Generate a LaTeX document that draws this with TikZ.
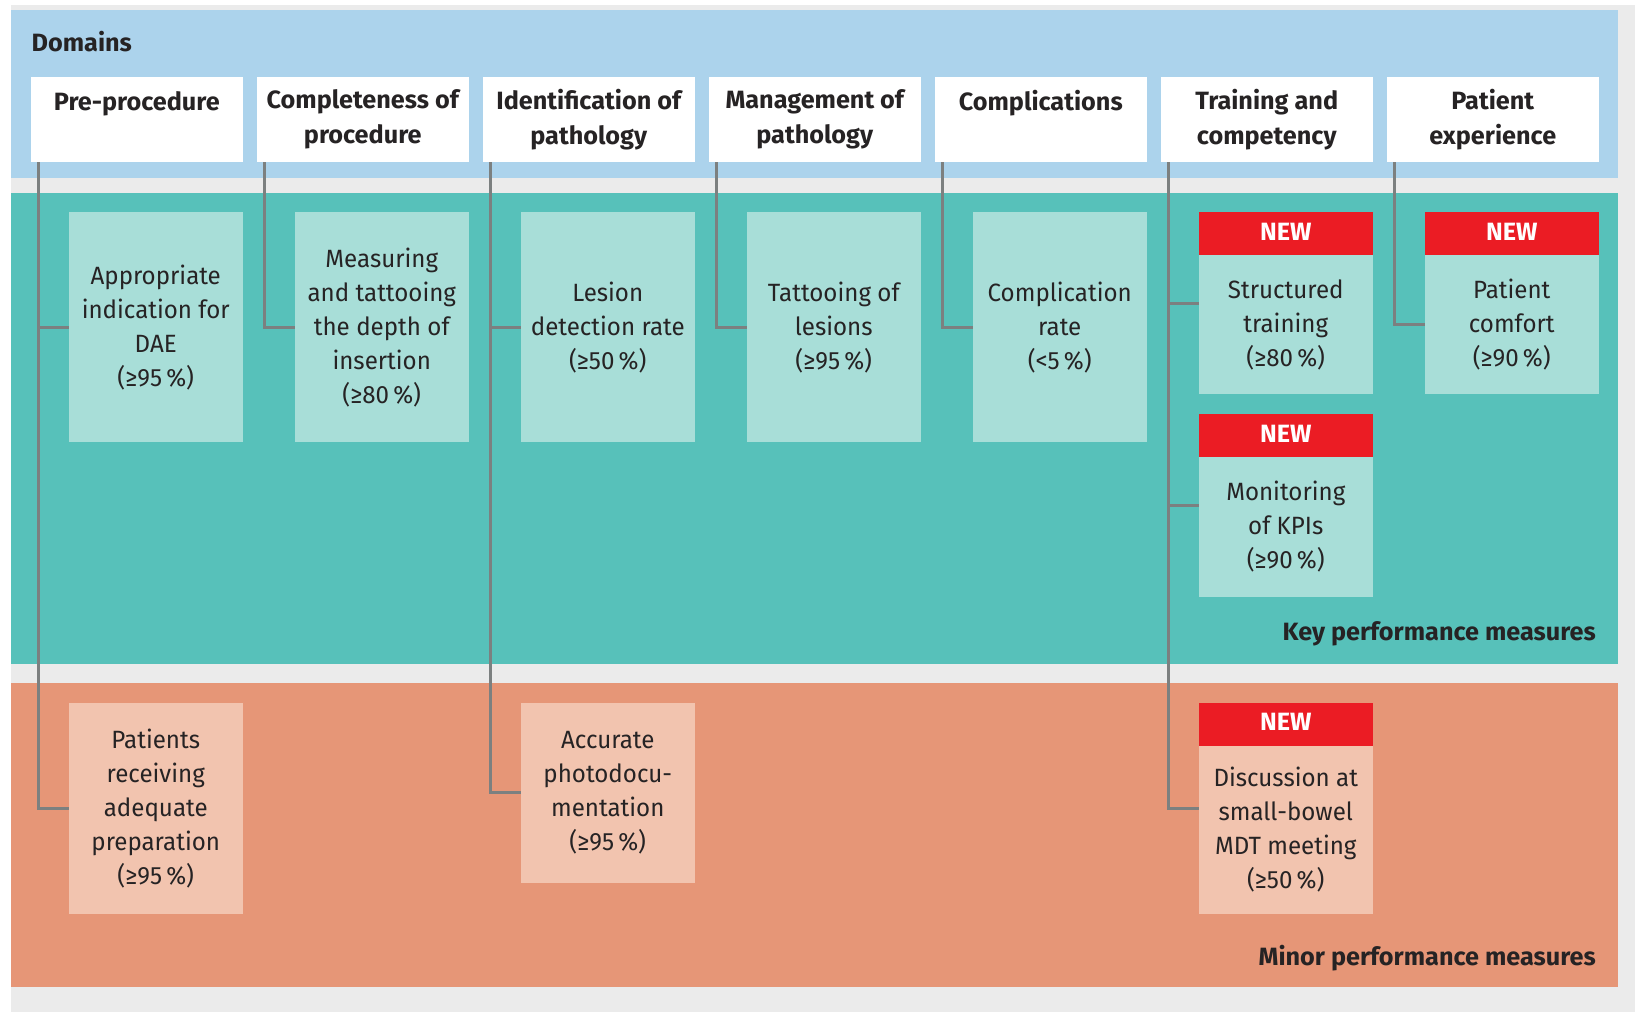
\documentclass[tikz,border=0pt]{standalone}
\usepackage{fontspec}
\setmainfont{Fira Sans}[UprightFeatures={FakeStretch=0.965}, BoldFeatures={FakeStretch=1.01}]
\usetikzlibrary{calc}
\definecolor{bggray}{HTML}{EBEBEB}
\definecolor{bandblue}{HTML}{ACD3EC}
\definecolor{bandteal}{HTML}{57C1BA}
\definecolor{lteal}{HTML}{A8DED8}
\definecolor{bandorange}{HTML}{E69677}
\definecolor{lorange}{HTML}{F2C4AF}
\definecolor{newred}{HTML}{EB1C24}
\definecolor{linegray}{HTML}{7C8080}
\definecolor{txt}{HTML}{262324}
\tikzset{
  hdr/.style={fill=white, inner sep=0pt, outer sep=0pt, align=center, text=txt,
    font=\bfseries\fontsize{25}{34.5}\selectfont, minimum width=211.5pt, minimum height=85.6pt,
    execute at begin node={\rule{0pt}{30.5pt}}, execute at end node={\rule[-3pt]{0pt}{3pt}}},
  kpi/.style={fill=lteal, inner sep=0pt, outer sep=0pt, align=center, text=txt,
    font=\fontsize{25}{34}\selectfont, minimum width=173.5pt,
    execute at begin node={\rule{0pt}{30.5pt}}, execute at end node={\rule[-3pt]{0pt}{3pt}}},
  minorbox/.style={kpi, fill=lorange},
  newtag/.style={fill=newred, inner sep=0pt, outer sep=0pt, text=white, text depth=4.6pt,
    font=\bfseries\fontsize{25}{30}\selectfont, minimum width=173.5pt, minimum height=43pt},
  bandlabel/.style={inner sep=0pt, text=txt, font=\bfseries\fontsize{25}{30}\selectfont},
  conn/.style={draw=linegray, line width=3pt}
}
\begin{document}
\begin{tikzpicture}[x=1pt,y=-1pt]
\useasboundingbox (0,0) rectangle (1635,1023);
\fill[white] (0,0) rectangle (1635,1023);
\fill[bggray] (11,5) rectangle (1635,1012);
\fill[bandblue] (11,9.5) rectangle (1618,177.7);
\fill[bandteal] (11,192.7) rectangle (1618,664.3);
\fill[bandorange] (11,683.3) rectangle (1618,987);

\node[bandlabel, anchor=base west] (domains) at (31.5,51) {Domains};
\node[bandlabel, anchor=base east] (keylab) at (1596,640) {Key performance measures};
\node[bandlabel, anchor=base east] (minlab) at (1596,965) {Minor performance measures};

% header boxes
\node[hdr] (h1) at (136.75,119.5) {Pre-procedure\\ };
\node[hdr] (h2) at (362.75,119.5) {Completeness of\\procedure};
\node[hdr] (h3) at (588.75,119.5) {Identification of\\pathology};
\node[hdr] (h4) at (814.75,119.5) {Management of\\pathology};
\node[hdr] (h5) at (1040.75,119.5) {Complications\\ };
\node[hdr] (h6) at (1266.75,119.5) {Training and\\competency};
\node[hdr] (h7) at (1492.75,119.5) {Patient\\experience};

% key performance measures
\node[kpi, minimum height=230.3pt] (b1) at (155.75,327.15) {Appropriate\\indication for\\DAE\\(≥95\,\%)};
\node[kpi, minimum height=230.3pt] (b2) at (381.75,327.15) {Measuring\\and tattooing\\the depth of\\insertion\\(≥80\,\%)};
\node[kpi, minimum height=230.3pt] (b3) at (607.75,327.15) {Lesion\\detection rate\\(≥50\,\%)};
\node[kpi, minimum height=230.3pt] (b4) at (833.75,327.15) {Tattooing of\\lesions\\(≥95\,\%)};
\node[kpi, minimum height=230.3pt] (b5) at (1059.75,327.15) {Complication\\rate\\(<5\,\%)};

\node[newtag] (n6a) at (1285.75,233.65) {NEW};
\node[kpi, minimum height=139pt] (s6a) at (1285.75,324.5) {Structured\\training\\(≥80\,\%)};
\node[newtag] (n6b) at (1285.75,435.8) {NEW};
\node[kpi, minimum height=139.4pt] (s6b) at (1285.75,527) {Monitoring\\of KPIs\\(≥90\,\%)};
\node[newtag] (n7) at (1511.75,233.65) {NEW};
\node[kpi, minimum height=139pt] (s7) at (1511.75,324.5) {Patient\\comfort\\(≥90\,\%)};

% minor performance measures
\node[minorbox, minimum height=211pt] (p1) at (155.75,808.5) {Patients\\receiving\\adequate\\preparation\\(≥95\,\%)};
\node[minorbox, minimum height=179.7pt] (p3) at (607.75,792.85) {Accurate\\photodocu-\\mentation\\(≥95\,\%)};
\node[newtag] (n6c) at (1285.75,724.35) {NEW};
\node[minorbox, minimum height=168pt] (s6c) at (1285.75,830) {Discussion at\\small-bowel\\MDT meeting\\(≥50\,\%)};

% connector start points
\foreach \i in {1,...,7} {\coordinate (c\i) at ($(h\i.south west)+(7.5,0)$);}
\coordinate (t6a) at ($(n6a.north west)!0.5!(s6a.south west)$);
\coordinate (t6b) at ($(n6b.north west)!0.5!(s6b.south west)$);
\coordinate (t6c) at ($(n6c.north west)!0.5!(s6c.south west)$);

\draw[conn] (c1) |- (b1.west);
\draw[conn] (c1) |- (p1.west);
\draw[conn] (c2) |- (b2.west);
\draw[conn] (c3) |- (b3.west);
\draw[conn] (c3) |- (p3.west);
\draw[conn] (c4) |- (b4.west);
\draw[conn] (c5) |- (b5.west);
\draw[conn] (c6) |- (t6a);
\draw[conn] (c6) |- (t6b);
\draw[conn] (c6) |- (t6c);
\draw[conn] (c7) |- (s7.west);
\end{tikzpicture}
\end{document}
